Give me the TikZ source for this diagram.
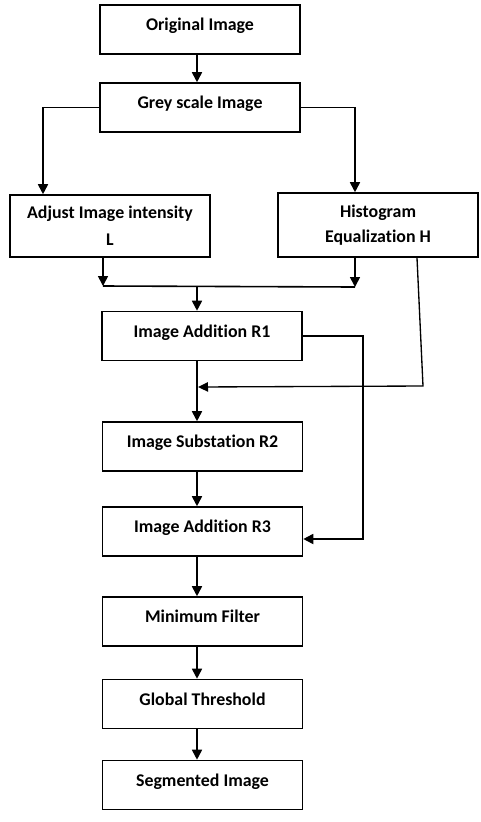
\documentclass[tikz,border=0pt]{standalone}
\usepackage{fontspec}
\setmainfont[Ligatures={NoCommon}]{Carlito}
\usetikzlibrary{arrows.meta}
\begin{document}
\begin{tikzpicture}[x=0.75pt,y=-0.75pt,
  stepbox/.style={draw, line width=1.2pt, minimum width=150pt, minimum height=36.75pt,
    inner sep=0pt, align=center, font=\fontsize{13.4}{19}\selectfont\bfseries},
  oneline/.style={text height=9pt, text depth=7.5pt},
  arr/.style={line width=1.3pt, -{Triangle[length=7.5pt,width=7.5pt]}},
  thinarr/.style={line width=1pt, -{Triangle[length=7.5pt,width=7pt]}},
  link/.style={line width=1.2pt}]
\useasboundingbox (0,0) rectangle (480,822);

% processing boxes
\node[stepbox, oneline] (orig) at (200,29.5) {Original Image};
\node[stepbox, oneline] (grey) at (200,107.5) {Grey scale Image};
\node[stepbox, minimum height=46.5pt] (adj) at (110,226) {Adjust Image intensity\\[1pt]L};
\node[stepbox, minimum height=48pt] (hist) at (378,225) {Histogram\\Equalization H};
\node[stepbox, oneline] (r1) at (202,336) {Image Addition R1};
\node[stepbox, oneline] (r2) at (202.5,446.5) {Image Substation R2};
\node[stepbox, oneline] (r3) at (202.5,531.5) {Image Addition R3};
\node[stepbox, oneline] (minf) at (202.5,621.5) {Minimum Filter};
\node[stepbox, oneline] (glob) at (202.5,704) {Global Threshold};
\node[stepbox, oneline] (seg) at (202.5,785) {Segmented Image};

% junction points
\coordinate (spine) at (197,0);
\coordinate (mL) at (103,286);
\coordinate (mR) at (355,287);
\coordinate (fbtop) at (363,336);
\coordinate (fbbot) at (363,539);
\coordinate (hq) at (423,386);
\coordinate (hj) at (198,387);

% top of the flow
\draw[arr] (orig.south -| spine) -- (grey.north -| spine);
\draw[arr] (grey.west) -| ([xshift=-50.25pt]adj.north);
\draw[arr] (grey.east) -| ([xshift=-17.25pt]hist.north);

% merge of L and H into R1
\draw[arr] ([xshift=-5.25pt]adj.south) -- (mL);
\draw[arr] ([xshift=-17.25pt]hist.south) -- (mR);
\draw[link] (mL) -- (mR);
\draw[arr] (mL -| spine) -- (r1.north -| spine);

% H fed back into the spine below R1
\draw[thinarr] ([xshift=29.25pt]hist.south) -- (hq) -- (hj);

% R1 carried forward to R3
\draw[arr] (r1.east) -- (fbtop) -- (fbbot) -- (fbbot -| r3.east);

% main spine
\draw[arr] (r1.south -| spine) -- (r2.north -| spine);
\draw[arr] (r2.south -| spine) -- (r3.north -| spine);
\draw[arr] (r3.south -| spine) -- (minf.north -| spine);
\draw[arr] (minf.south -| spine) -- (glob.north -| spine);
\draw[arr] (glob.south -| spine) -- (seg.north -| spine);
\end{tikzpicture}
\end{document}
